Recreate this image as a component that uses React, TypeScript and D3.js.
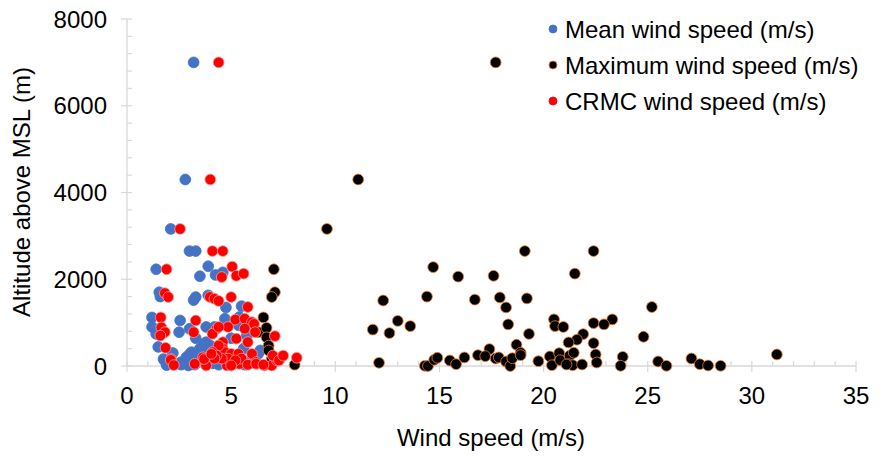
import { useEffect, useRef } from 'react';
import * as d3 from 'd3';

type Pt = [number, number];

// [wind speed (m/s), altitude (m)]
const meanWind: Pt[] = [
  [3.2, 7000], [2.8, 4300], [2.1, 3160], [3.0, 2650], [3.3, 2650], [1.4, 2230], [3.9, 2300],
  [3.5, 2070], [4.25, 2100], [4.6, 2160], [1.55, 1700], [1.6, 1600], [3.2, 1520], [3.3, 1590],
  [3.9, 1630], [4.75, 1350], [5.5, 1380], [1.2, 1120], [1.2, 900], [1.4, 740], [2.55, 1050],
  [2.5, 780], [3.0, 860], [3.8, 900], [4.7, 1090], [5.4, 1130], [5.35, 940], [5.75, 700],
  [3.8, 550], [1.5, 440], [1.75, 160], [1.8, 130], [2.6, 90], [2.8, 120], [2.85, 200],
  [2.95, 12], [3.0, 270], [3.1, 320], [3.4, 170], [3.5, 400], [3.7, 510], [3.6, 200],
  [3.25, 30], [2.6, 30], [3.95, 130], [4.0, 470], [4.4, 470], [4.4, 30], [5.65, 30],
  [6.3, 280], [6.4, 360], [5.6, 400], [4.1, 60], [4.6, 80], [5.1, 40], [2.3, 60], [1.9, 20],
  [2.2, 300], [3.3, 640], [5.0, 640], [4.2, 900], [6.0, 150], [5.9, 60], [3.9, 300],
];

const maxWind: Pt[] = [
  [17.7, 7000], [11.1, 4300], [9.6, 3160], [14.7, 2280], [15.9, 2060], [17.6, 2080], [19.1, 2650],
  [22.4, 2650], [21.5, 2130], [12.3, 1510], [14.4, 1600], [16.7, 1530], [17.9, 1580], [19.2, 1560],
  [18.2, 1350], [11.8, 840], [12.6, 760], [13.0, 1040], [13.6, 920], [18.3, 960], [19.3, 740],
  [20.5, 1075], [20.55, 920], [20.95, 900], [21.9, 736], [21.6, 606], [21.2, 543], [22.4, 990],
  [22.4, 527], [18.7, 490], [17.4, 390], [18.9, 305], [12.1, 74], [14.3, 5], [14.45, 0],
  [14.75, 143], [14.9, 190], [15.5, 127], [15.8, 42], [16.2, 197], [16.85, 250], [17.2, 227],
  [17.7, 173], [17.85, 197], [18.2, 104], [18.4, 0], [18.5, 180], [18.9, 250], [19.75, 111],
  [20.3, 220], [20.4, 18], [20.75, 296], [20.8, 134], [21.25, 236], [21.45, 305], [21.2, 42],
  [21.4, 18], [21.85, 35], [22.5, 266], [22.55, 81], [25.2, 1360], [23.3, 1075], [22.9, 960],
  [24.8, 674], [23.8, 212], [23.7, 5], [25.5, 104], [25.9, 5], [27.1, 173], [27.5, 42],
  [27.9, 12], [28.5, 5], [31.2, 266], [21.1, 35], [7.05, 2230], [7.1, 1700], [6.95, 1590],
  [6.55, 1120], [6.3, 780], [6.7, 880], [6.7, 660], [6.8, 470], [6.8, 360], [6.95, 166], [8.05, 30],
];

const crmcWind: Pt[] = [
  [4.4, 7000], [4.0, 4300], [2.55, 3160], [4.1, 2650], [4.6, 2650], [1.9, 2230], [5.05, 2290],
  [4.55, 2050], [5.25, 2080], [5.6, 2130], [1.82, 1680], [1.98, 1590], [3.98, 1590], [4.2, 1550],
  [4.4, 1500], [5.0, 1590], [5.8, 1360], [1.62, 1120], [1.65, 890], [1.82, 780], [1.6, 700],
  [3.3, 1050], [3.2, 780], [4.3, 860], [4.1, 740], [5.2, 1070], [4.85, 900], [5.65, 1090],
  [6.0, 1010], [6.1, 970], [5.25, 630], [4.6, 550], [4.6, 400], [1.85, 420], [2.12, 160],
  [2.1, 140], [2.25, 20], [3.25, 50], [3.8, 12], [3.65, 200], [4.15, 240], [4.4, 200],
  [4.8, 240], [5.0, 170], [5.25, 110], [4.8, 12], [5.4, 50], [6.0, 280], [6.2, 90], [6.6, 12],
  [6.95, 12], [7.2, 130], [7.45, 220], [7.0, 240], [8.15, 190], [4.4, 900], [5.65, 860],
  [5.8, 550], [6.15, 780], [7.1, 690], [4.7, 320], [5.0, 280], [5.35, 280], [5.5, 170],
  [4.85, 170], [5.2, 130], [4.55, 170], [5.0, 12], [5.8, 30], [6.2, 50], [6.55, 30], [7.3, 130],
  [7.5, 240], [4.4, 470], [4.1, 320], [4.3, 240], [4.2, 170], [3.7, 160], [4.05, 280],
];

const xTicks = [0, 5, 10, 15, 20, 25, 30, 35];
const yTicks = [0, 2000, 4000, 6000, 8000];

const legendItems = [
  { label: 'Mean wind speed (m/s)', fill: '#4472C4', stroke: '#4472C4' },
  { label: 'Maximum wind speed (m/s)', fill: '#000000', stroke: '#ED7D31' },
  { label: 'CRMC wind speed (m/s)', fill: '#FF0000', stroke: '#FF0000' },
];

export default function App() {
  const svgRef = useRef<SVGSVGElement>(null);

  useEffect(() => {
    if (!svgRef.current) return;
    const svg = d3.select(svgRef.current);
    svg.selectAll('*').remove();

    const font = 'Liberation Sans, Arial, sans-serif';
    const fs = '24px';
    const x = d3.scaleLinear().domain([0, 35]).range([127, 856]);
    const y = d3.scaleLinear().domain([0, 8000]).range([366, 19]);
    const axisColor = '#d9d9d9';

    // axis lines
    svg.append('line').attr('x1', x(0)).attr('x2', x(35)).attr('y1', y(0)).attr('y2', y(0))
      .attr('stroke', axisColor).attr('stroke-width', 1.3);
    svg.append('line').attr('x1', x(0)).attr('x2', x(0)).attr('y1', y(0)).attr('y2', y(8000))
      .attr('stroke', axisColor).attr('stroke-width', 1.3);

    // minor ticks
    svg.append('g').selectAll('line').data(d3.range(0, 36, 1).filter((v) => v % 5 !== 0)).enter()
      .append('line').attr('x1', (d) => x(d)).attr('x2', (d) => x(d))
      .attr('y1', y(0) - 5).attr('y2', y(0)).attr('stroke', axisColor).attr('stroke-width', 1.2);
    svg.append('g').selectAll('line').data(d3.range(0, 8001, 400).filter((v) => v % 2000 !== 0)).enter()
      .append('line').attr('y1', (d) => y(d)).attr('y2', (d) => y(d))
      .attr('x1', x(0)).attr('x2', x(0) + 5).attr('stroke', axisColor).attr('stroke-width', 1.2);

    // major ticks
    svg.append('g').selectAll('line').data(xTicks).enter()
      .append('line').attr('x1', (d) => x(d)).attr('x2', (d) => x(d))
      .attr('y1', y(0) - 5).attr('y2', y(0) + 6).attr('stroke', axisColor).attr('stroke-width', 1.2);
    svg.append('g').selectAll('line').data(yTicks).enter()
      .append('line').attr('y1', (d) => y(d)).attr('y2', (d) => y(d))
      .attr('x1', x(0) - 6).attr('x2', x(0) + 5).attr('stroke', axisColor).attr('stroke-width', 1.2);

    // tick labels
    svg.append('g').selectAll('text').data(xTicks).enter()
      .append('text').attr('x', (d) => x(d)).attr('y', 404)
      .attr('text-anchor', 'middle').style('font-family', font).style('font-size', fs)
      .attr('fill', '#000').text((d) => d);
    svg.append('g').selectAll('text').data(yTicks).enter()
      .append('text').attr('x', 107).attr('y', (d) => y(d) + 8.5)
      .attr('text-anchor', 'end').style('font-family', font).style('font-size', fs)
      .attr('fill', '#000').text((d) => d);

    // axis titles
    svg.append('text').attr('x', 491).attr('y', 446).attr('text-anchor', 'middle')
      .style('font-family', font).style('font-size', fs).text('Wind speed (m/s)');
    svg.append('text').attr('transform', 'translate(30,192) rotate(-90)').attr('text-anchor', 'middle')
      .style('font-family', font).style('font-size', fs).text('Altitude above MSL (m)');

    // points
    const series = [
      { data: meanWind, fill: '#4472C4', stroke: '#4472C4' },
      { data: maxWind, fill: '#000000', stroke: '#ED7D31' },
      { data: crmcWind, fill: '#FF0000', stroke: '#F5A0A0' },
    ];
    series.forEach((s) => {
      svg.append('g').selectAll('circle').data(s.data).enter()
        .append('circle').attr('cx', (d) => x(d[0])).attr('cy', (d) => y(d[1])).attr('r', 5.4)
        .attr('fill', s.fill).attr('stroke', s.stroke).attr('stroke-width', 0.8);
    });

    // legend
    const lg = svg.append('g').selectAll('g').data(legendItems).enter().append('g')
      .attr('transform', (_, i) => `translate(553,${29 + i * 36})`);
    lg.append('circle').attr('r', 4).attr('fill', (d) => d.fill).attr('stroke', (d) => d.stroke).attr('stroke-width', 0.8);
    lg.append('text').attr('x', 12).attr('y', 8.5).style('font-family', font).style('font-size', fs)
      .attr('fill', '#000').text((d) => d.label);
  }, []);

  return (
    <svg ref={svgRef} width="881" height="464" style={{ position: 'absolute', left: 0, top: 0, background: '#fff' }} />
  );
}
